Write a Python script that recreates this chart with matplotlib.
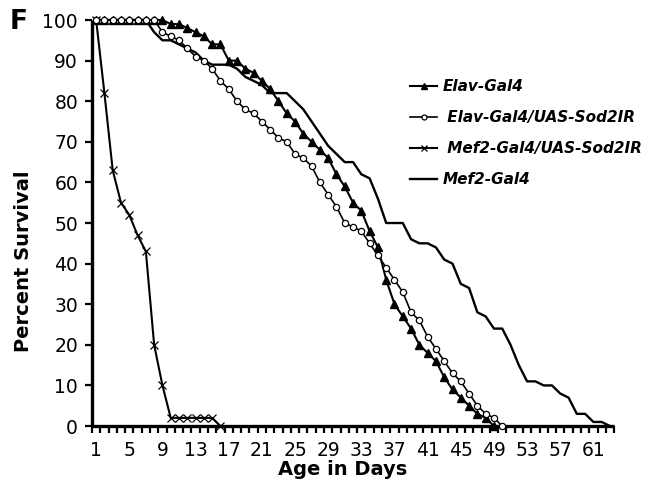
import matplotlib
matplotlib.use("Agg")
import matplotlib.pyplot as plt

# survival data (percent) per day
days_elav = list(range(1, 50))
elav_gal4 = [100, 100, 100, 100, 100, 100, 100, 100, 100, 99,
             99, 98, 97, 96, 94, 94, 90, 90, 88, 87,
             85, 83, 80, 77, 75, 72, 70, 68, 66, 62,
             59, 55, 53, 48, 44, 36, 30, 27, 24, 20,
             18, 16, 12, 9, 7, 5, 3, 2, 0]

days_elav_ir = list(range(1, 51))
elav_sod2ir = [100, 100, 100, 100, 100, 100, 100, 100, 97, 96,
               95, 93, 91, 90, 88, 85, 83, 80, 78, 77,
               75, 73, 71, 70, 67, 66, 64, 60, 57, 54,
               50, 49, 48, 45, 42, 39, 36, 33, 28, 26,
               22, 19, 16, 13, 11, 8, 5, 3, 2, 0]

days_mef2_ir = list(range(1, 17))
mef2_sod2ir = [100, 82, 63, 55, 52, 47, 43, 20, 10, 2,
               2, 2, 2, 2, 2, 0]

days_mef2 = list(range(1, 64))
mef2_gal4 = [100, 100, 100, 100, 100, 100, 100, 97, 95, 95,
             94, 93, 92, 90, 89, 89, 89, 88, 86, 85,
             84, 82, 82, 82, 80, 78, 75, 72, 69, 67,
             65, 65, 62, 61, 56, 50, 50, 50, 46, 45,
             45, 44, 41, 40, 35, 34, 28, 27, 24, 24,
             20, 15, 11, 11, 10, 10, 8, 7, 3, 3,
             1, 1, 0]

label_days = list(range(1, 62, 4))

fig = plt.figure(figsize=(6.58, 4.88), dpi=100)
ax = fig.add_axes([0.1398, 0.127, 0.7935, 0.832])

ax.plot(days_elav, elav_gal4, color="black", lw=1.5, marker="^",
        ms=6, mfc="black", mec="black", clip_on=False, zorder=4,
        label="Elav-Gal4")
ax.plot(days_elav_ir, elav_sod2ir, color="black", lw=1.2, marker="o",
        ms=4.5, mfc="white", mec="black", mew=0.9, clip_on=False, zorder=5,
        label=" Elav-Gal4/UAS-Sod2IR")
ax.plot(days_mef2_ir, mef2_sod2ir, color="black", lw=1.5, marker="x",
        ms=6, mec="black", mew=0.9, clip_on=False, zorder=3,
        label=" Mef2-Gal4/UAS-Sod2IR")
ax.plot(days_mef2, mef2_gal4, color="black", lw=1.7, clip_on=False,
        zorder=2, label="Mef2-Gal4")

ax.set_xlim(0.5, 63.5)
ax.set_ylim(0, 100)

for s in ["top", "right"]:
    ax.spines[s].set_visible(False)
for s in ["left", "bottom"]:
    ax.spines[s].set_linewidth(2.4)
    ax.spines[s].set_capstyle("butt")

# tick marks between categories, labels every 4 days
ax.set_xticks([d + 0.5 for d in range(0, 64)])
ax.set_xticklabels([])
ax.tick_params(axis="x", which="major", direction="out", length=5, width=1.6)
ax.set_xticks(label_days, minor=True)
ax.set_xticklabels([str(d) for d in label_days], minor=True)
ax.tick_params(axis="x", which="minor", length=0, pad=11, labelsize=13.5)

ax.set_yticks(range(0, 101, 10))
ax.tick_params(axis="y", direction="out", length=5, width=1.6, pad=5,
               labelsize=13.5)

fig.text(0.035, 0.465, "Percent Survival", rotation=90, ha="center",
         va="center", fontsize=14, fontweight="bold")
fig.text(0.52, 0.038, "Age in Days", ha="center", va="center",
         fontsize=14, fontweight="bold")
fig.text(0.015, 0.955, "F", ha="left", va="center", fontsize=19,
         fontweight="bold")

leg = ax.legend(loc="upper left", bbox_to_anchor=(0.612, 0.853),
                bbox_transform=fig.transFigure, frameon=False,
                handlelength=1.75, handletextpad=0.35, labelspacing=1.05,
                borderpad=0, markerscale=0.8,
                prop={"weight": "bold", "style": "italic", "size": 11})

fig.savefig("out.png", dpi=100)
